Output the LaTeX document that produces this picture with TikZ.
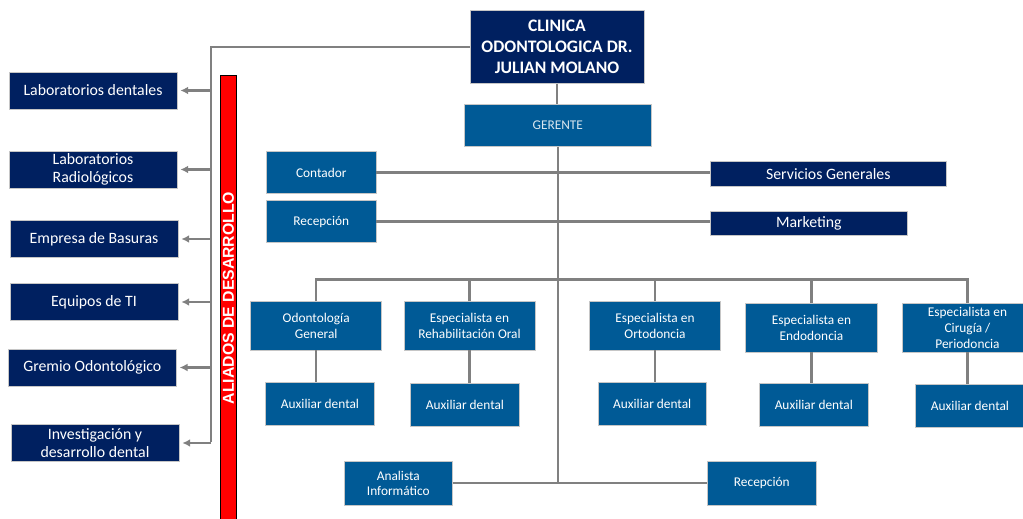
\documentclass[tikz,border=0pt]{standalone}
\usepackage{fontspec}
\setmainfont{Carlito}
\newfontfamily\barfont{Liberation Sans}
\usetikzlibrary{arrows.meta}
\definecolor{navy}{RGB}{0,32,96}
\definecolor{midblue}{RGB}{0,90,150}
\definecolor{linegray}{RGB}{128,128,128}
\begin{document}
\begin{tikzpicture}[x=0.02cm, y=-0.02cm]
\tikzstyle{dark} = [rectangle, text centered, align=center, inner sep=0pt, fill=navy, draw=gray!45, line width=0.4pt, text=white]
\tikzstyle{mid}  = [rectangle, text centered, align=center, inner sep=0pt, fill=midblue, draw=gray!45, line width=0.4pt, text=white, font=\fontsize{7.6}{8.9}\selectfont]
\tikzstyle{ally} = [dark, minimum width=3.36cm, minimum height=0.74cm, font=\fontsize{9}{10.2}\selectfont]
\tikzstyle{link} = [draw=linegray, line width=1.3pt]
\tikzstyle{tolink} = [link, -{Latex[length=4.5pt, width=4.5pt]}, shorten >=0.06cm]
\useasboundingbox (0,0) rectangle (1023,519);
% top of the chart
\node[dark, minimum width=3.48cm, minimum height=1.45cm, font=\bfseries\fontsize{10}{12.1}\selectfont] at (557.0, 47.0) (0_c_0) {CLINICA\\ODONTOLOGICA DR.\\JULIAN MOLANO};
\node[mid, minimum width=3.75cm, minimum height=0.85cm, text=white!85!midblue] at (557.8, 125.3) (1_g_0) {GERENTE};
\node[mid, minimum width=2.19cm, minimum height=0.83cm] at (321.3, 172.5) (2_c_0) {Contador};
\node[mid, minimum width=2.19cm, minimum height=0.83cm] at (321.3, 221.5) (2_c_1) {Recepción};
\node[dark, minimum width=4.71cm, minimum height=0.49cm, font=\fontsize{9}{10}\selectfont] at (828.3, 173.8) (2_s_0) {Servicios Generales};
\node[dark, minimum width=3.95cm, minimum height=0.48cm, font=\fontsize{9}{10}\selectfont] at (808.8, 223.0) (2_s_1) {Marketing};
% specialists and their assistants
\coordinate (0_h_0) at (557.0, 279.5);
\node[mid, minimum width=2.62cm, minimum height=0.97cm] at (316.2, 325.8) (3_e_0) {Odontología\\General};
\node[mid, minimum width=2.62cm, minimum height=0.97cm] at (469.5, 325.8) (3_e_1) {Especialista en\\Rehabilitación Oral};
\node[mid, minimum width=2.63cm, minimum height=0.97cm] at (655.0, 325.8) (3_e_2) {Especialista en\\Ortodoncia};
\node[mid, minimum width=2.63cm, minimum height=0.97cm] at (811.5, 327.8) (3_e_3) {Especialista en\\Endodoncia};
\node[mid, minimum width=2.62cm, minimum height=0.97cm] at (967.5, 327.8) (3_e_4) {Especialista en\\Cirugía /\\Periodoncia};
\node[mid, minimum width=2.17cm, minimum height=0.86cm] at (320.0, 404.2) (4_x_0) {Auxiliar dental};
\node[mid, minimum width=2.17cm, minimum height=0.86cm] at (465.0, 404.5) (4_x_1) {Auxiliar dental};
\node[mid, minimum width=2.17cm, minimum height=0.86cm] at (652.2, 404.2) (4_x_2) {Auxiliar dental};
\node[mid, minimum width=2.17cm, minimum height=0.86cm] at (813.8, 404.8) (4_x_3) {Auxiliar dental};
\node[mid, minimum width=2.17cm, minimum height=0.86cm] at (970.0, 405.8) (4_x_4) {Auxiliar dental};
\node[mid, minimum width=2.17cm, minimum height=0.87cm] at (398.3, 483.3) (5_a_0) {Analista\\Informático};
\node[mid, minimum width=2.17cm, minimum height=0.87cm] at (761.8, 483.3) (5_a_1) {Recepción};
% allies on the left
\coordinate (0_v_0) at (211.0, 442.0);
\node[rectangle, fill=red, draw=black, line width=0.7pt, minimum width=0.33cm, minimum height=9.0cm, anchor=north] at (228.5, 75.0) (0_r_0) {};
\node[rotate=90, text=white, font=\barfont\bfseries\fontsize{9}{10}\selectfont] at (228.5, 298.0) (0_t_0) {ALIADOS DE DESARROLLO};
\node[ally] at (93.0, 90.5) (6_l_0) {Laboratorios dentales};
\node[ally] at (93.0, 169.5) (6_l_1) {Laboratorios\\Radiológicos};
\node[ally] at (94.0, 239.0) (6_l_2) {Empresa de Basuras};
\node[ally] at (94.0, 302.0) (6_l_3) {Equipos de TI};
\node[ally] at (92.3, 367.5) (6_l_4) {Gremio Odontológico};
\node[ally] at (95.0, 443.0) (6_l_5) {Investigación y\\desarrollo dental};
% connectors
\draw[link] (0_c_0.south) -- (0_c_0.south |- 1_g_0.north);
\draw[link] (1_g_0.south) -- (1_g_0.south |- 5_a_0.east);
\draw[link] (2_c_0.east) -- (2_c_0.east -| 2_s_0.west);
\draw[link] (2_c_1.east) -- (2_c_1.east -| 2_s_1.west);
\draw[link] (3_e_0.north) -- (3_e_0.north |- 0_h_0) -- (3_e_4.north |- 0_h_0) -- (3_e_4.north);
\draw[link] (3_e_1.north) -- (3_e_1.north |- 0_h_0);
\draw[link] (3_e_2.north) -- (3_e_2.north |- 0_h_0);
\draw[link] (3_e_3.north) -- (3_e_3.north |- 0_h_0);
\draw[link] (3_e_0.south) -- (3_e_0.south |- 4_x_0.north);
\draw[link] (3_e_1.south) -- (3_e_1.south |- 4_x_1.north);
\draw[link] (3_e_2.south) -- (3_e_2.south |- 4_x_2.north);
\draw[link] (3_e_3.south) -- (3_e_3.south |- 4_x_3.north);
\draw[link] (3_e_4.south) -- (3_e_4.south |- 4_x_4.north);
\draw[link] (5_a_0.east) -- (5_a_1.west);
\draw[link] (0_c_0.west) -| (0_v_0);
\draw[tolink] (0_v_0 |- 6_l_0.east) -- (6_l_0.east);
\draw[tolink] (0_v_0 |- 6_l_1.east) -- (6_l_1.east);
\draw[tolink] (0_v_0 |- 6_l_2.east) -- (6_l_2.east);
\draw[tolink] (0_v_0 |- 6_l_3.east) -- (6_l_3.east);
\draw[tolink] (0_v_0 |- 6_l_4.east) -- (6_l_4.east);
\draw[tolink] (0_v_0 |- 6_l_5.east) -- (6_l_5.east);
\end{tikzpicture}
\end{document}
